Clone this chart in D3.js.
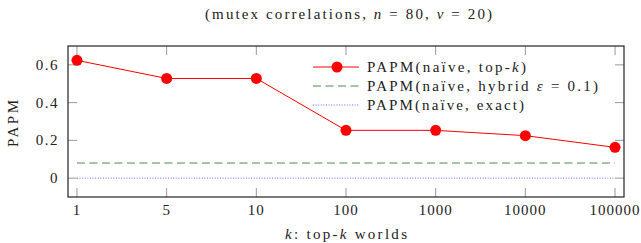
<!DOCTYPE html>
<html>
<head>
<meta charset="utf-8">
<script src="https://cdn.jsdelivr.net/npm/d3@7"></script>
<style>
  body { margin: 0; background: #fff; }
  svg text { font-family: "Liberation Serif", serif; fill: #222; }
</style>
</head>
<body>
<div id="chart"></div>
<script>
// data
const kLabels = ["1", "5", "10", "100", "1000", "10000", "100000"];
const topK = [0.624, 0.528, 0.528, 0.253, 0.253, 0.225, 0.163];
const hybrid = 0.08;
const exact = 0;
const yTicks = [0, 0.2, 0.4, 0.6];

const W = 641, H = 243;
const margin = { top: 46, right: 17, bottom: 46, left: 68 };
const width = W - margin.left - margin.right;
const height = H - margin.top - margin.bottom;
const fs = "15px";
const serif = "Liberation Serif";

// stretch a text to the width it has in the (Computer Modern) original
function fitWidth(sel, target) {
    const node = sel.node();
    const n = node.textContent.length;
    const len = node.getComputedTextLength();
    if (n > 1) sel.style("letter-spacing", ((target - len) / (n - 1)) + "px");
}

const svg = d3.select("#chart").append("svg")
    .attr("width", W)
    .attr("height", H)
    .attr("font-family", serif);

// title
svg.append("text")
    .attr("x", 205)
    .attr("y", 19)
    .attr("font-family", serif)
    .style("font-size", fs)
    .html('(mutex correlations, <tspan font-style="italic">n</tspan> = 80, <tspan font-style="italic">v</tspan> = 20)')
    .call(fitWidth, 287);

const g = svg.append("g")
    .attr("transform", `translate(${margin.left},${margin.top})`);

const x = d3.scalePoint()
    .domain(kLabels)
    .range([0, width])
    .padding(0.1);

const y = d3.scaleLinear()
    .domain([-0.1, 0.7])
    .range([height, 0]);

// ticks (inside, both sides)
const tickLen = 9;
g.selectAll("line.ytick-l").data(yTicks).enter().append("line")
    .attr("x1", 0).attr("x2", tickLen)
    .attr("y1", d => y(d)).attr("y2", d => y(d))
    .attr("stroke", "#999").attr("stroke-width", 1);
g.selectAll("line.ytick-r").data(yTicks).enter().append("line")
    .attr("x1", width - tickLen).attr("x2", width)
    .attr("y1", d => y(d)).attr("y2", d => y(d))
    .attr("stroke", "#999").attr("stroke-width", 1);
g.selectAll("line.xtick-b").data(kLabels).enter().append("line")
    .attr("x1", d => x(d)).attr("x2", d => x(d))
    .attr("y1", height - tickLen).attr("y2", height)
    .attr("stroke", "#999").attr("stroke-width", 1);
g.selectAll("line.xtick-t").data(kLabels).enter().append("line")
    .attr("x1", d => x(d)).attr("x2", d => x(d))
    .attr("y1", 0).attr("y2", tickLen)
    .attr("stroke", "#999").attr("stroke-width", 1);

// tick labels
g.selectAll("text.ylab").data(yTicks).enter().append("text")
    .attr("x", -9)
    .attr("y", d => y(d) + 5)
    .attr("text-anchor", "end")
    .attr("font-family", serif)
    .style("font-size", fs)
    .style("letter-spacing", "1.5px")
    .text(d => d === 0 ? "0" : d.toFixed(1));
g.selectAll("text.xlab").data(kLabels).enter().append("text")
    .attr("x", d => x(d))
    .attr("y", height + 18)
    .attr("text-anchor", "middle")
    .attr("font-family", serif)
    .style("font-size", fs)
    .style("letter-spacing", "1px")
    .text(d => d);

// axis labels
svg.append("text")
    .attr("x", 285)
    .attr("y", 239)
    .attr("font-family", serif)
    .style("font-size", fs)
    .html('<tspan font-style="italic">k</tspan>: top-<tspan font-style="italic">k</tspan> worlds')
    .call(fitWidth, 122);
svg.append("text")
    .attr("transform", "translate(18,147) rotate(-90)")
    .attr("font-family", serif)
    .style("font-size", fs)
    .text("PAPM")
    .call(fitWidth, 47);

// reference lines
const x0 = x(kLabels[0]), x1 = x(kLabels[kLabels.length - 1]);
g.append("line")
    .attr("x1", x0).attr("x2", x1)
    .attr("y1", y(hybrid)).attr("y2", y(hybrid))
    .attr("stroke", "#4d8a4d").attr("stroke-width", 1)
    .attr("stroke-dasharray", "8,4.5");
g.append("line")
    .attr("x1", x0).attr("x2", x1)
    .attr("y1", y(exact)).attr("y2", y(exact))
    .attr("stroke", "#6b6bff").attr("stroke-width", 1)
    .attr("stroke-dasharray", "1,1.6");

// top-k series
const line = d3.line()
    .x((d, i) => x(kLabels[i]))
    .y(d => y(d));
g.append("path")
    .datum(topK)
    .attr("fill", "none")
    .attr("stroke", "red")
    .attr("stroke-width", 1)
    .attr("d", line);
g.selectAll("circle.pt").data(topK).enter().append("circle")
    .attr("cx", (d, i) => x(kLabels[i]))
    .attr("cy", d => y(d))
    .attr("r", 5.5)
    .attr("fill", "red");

// frame
g.append("rect")
    .attr("width", width).attr("height", height)
    .attr("fill", "none")
    .attr("stroke", "#222").attr("stroke-width", 1.2);

// legend
const legend = [
    { html: 'PAPM(naïve, top-<tspan font-style="italic">k</tspan>)', w: 159, color: "red", dash: null, marker: true },
    { html: 'PAPM(naïve, hybrid <tspan font-style="italic">ε</tspan> = 0.1)', w: 231, color: "#4d8a4d", dash: "8,4.5", marker: false },
    { html: 'PAPM(naïve, exact)', w: 157, color: "#6b6bff", dash: "1,1.6", marker: false }
];
const lg = svg.append("g").attr("transform", "translate(313,67)");
legend.forEach((d, i) => {
    const row = lg.append("g").attr("transform", `translate(0,${i * 19})`);
    row.append("line")
        .attr("x1", 0).attr("x2", 46)
        .attr("stroke", d.color).attr("stroke-width", 1)
        .attr("stroke-dasharray", d.dash);
    if (d.marker) row.append("circle").attr("cx", 24).attr("r", 5.5).attr("fill", d.color);
    row.append("text")
        .attr("x", 54).attr("y", 5)
        .attr("font-family", serif)
        .style("font-size", fs)
        .html(d.html)
        .call(fitWidth, d.w);
});
</script>
</body>
</html>
